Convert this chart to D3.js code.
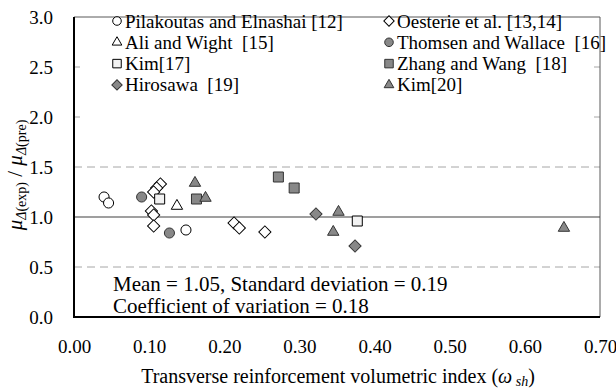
<!DOCTYPE html>
<html>
<head>
<meta charset="utf-8">
<script src="https://cdn.jsdelivr.net/npm/d3@7/dist/d3.min.js"></script>
<style>
  body { margin: 0; background: #fff; }
  svg text { font-family: "Liberation Serif", "Times New Roman", serif; }
</style>
</head>
<body>
<div id="graph"></div>
<script>
// tick values
const xTicks = [0, 0.1, 0.2, 0.3, 0.4, 0.5, 0.6, 0.7];
const yTicks = [0, 0.5, 1.0, 1.5, 2.0, 2.5, 3.0];
const gridLines = [0.5, 1.5, 2.0, 2.5];

// series
const pilakoutasX = [0.040, 0.046, 0.149];
const pilakoutasY = [1.20, 1.14, 0.87];
const oesterieX = [0.115, 0.110, 0.106, 0.103, 0.106, 0.106, 0.213, 0.220, 0.254];
const oesterieY = [1.33, 1.29, 1.25, 1.06, 1.02, 0.91, 0.94, 0.89, 0.85];
const aliX = [0.137];
const aliY = [1.11];
const thomsenX = [0.090, 0.127];
const thomsenY = [1.20, 0.84];
const kim17X = [0.114, 0.377];
const kim17Y = [1.18, 0.96];
const zhangX = [0.163, 0.272, 0.293];
const zhangY = [1.18, 1.40, 1.29];
const hirosawaX = [0.322, 0.374];
const hirosawaY = [1.03, 0.71];
const kim20X = [0.161, 0.175, 0.352, 0.345, 0.652];
const kim20Y = [1.34, 1.19, 1.05, 0.85, 0.89];

const legendLabels = [
  'Pilakoutas and Elnashai [12]', 'Oesterie et al. [13,14]',
  'Ali and Wight  [15]', 'Thomsen and Wallace  [16]',
  'Kim[17]', 'Zhang and Wang  [18]',
  'Hirosawa  [19]', 'Kim[20]'
];

const statsLines = [
  'Mean = 1.05, Standard deviation = 0.19',
  'Coefficient of variation = 0.18'
];

const fontSize = 19;
const grey = '#888888';
const series = [
  {xs: pilakoutasX, ys: pilakoutasY, shape: 'circle', fill: '#fff'},
  {xs: oesterieX, ys: oesterieY, shape: 'diamond', fill: '#fff'},
  {xs: aliX, ys: aliY, shape: 'triangle', fill: '#fff'},
  {xs: thomsenX, ys: thomsenY, shape: 'circle', fill: grey},
  {xs: kim17X, ys: kim17Y, shape: 'square', fill: '#f2f2f2'},
  {xs: zhangX, ys: zhangY, shape: 'square', fill: grey},
  {xs: hirosawaX, ys: hirosawaY, shape: 'diamond', fill: grey},
  {xs: kim20X, ys: kim20Y, shape: 'triangle', fill: grey}
];

const margin = {top: 17, right: 16, bottom: 75, left: 74};
const width = 616 - margin.left - margin.right;
const height = 392 - margin.top - margin.bottom;

const x = d3.scaleLinear().domain([0, 0.7]).range([0, width]);
const y = d3.scaleLinear().domain([0, 3]).range([height, 0]);

const svg = d3.select('#graph').append('svg')
  .attr('width', 616)
  .attr('height', 392)
  .append('g')
  .attr('transform', 'translate(' + margin.left + ',' + margin.top + ')');

function symbolPath(shape, scale) {
  const s = scale || 1;
  if (shape === 'circle') return d3.symbol(d3.symbolCircle, 80 * s * s)();
  if (shape === 'square') return d3.symbol(d3.symbolSquare, 100 * s * s)();
  if (shape === 'diamond') return d3.symbol(d3.symbolSquare, 74 * s * s)();
  return d3.symbol(d3.symbolTriangle, 56 * s * s)();
}

function strokeFor(fill) {
  return fill === grey ? '#333' : '#000';
}

// dashed grid
svg.append('g')
  .selectAll('line')
  .data(gridLines)
  .join('line')
  .attr('x1', 0).attr('x2', width)
  .attr('y1', d => y(d)).attr('y2', d => y(d))
  .attr('stroke', '#a6a6a6')
  .attr('stroke-width', 1)
  .attr('stroke-dasharray', '8,5');

// frame (top / right)
svg.append('path')
  .attr('d', 'M0,' + y(3) + 'H' + x(0.7) + 'V' + y(0))
  .attr('fill', 'none')
  .attr('stroke', '#595959')
  .attr('stroke-width', 1);

// legend box hides the upper grid lines
svg.append('rect')
  .attr('x', 6).attr('y', y(3) + 1)
  .attr('width', width - 12).attr('height', y(2) - y(3) + 4)
  .attr('fill', '#fff');

// reference line at 1.0
svg.append('line')
  .attr('x1', 0).attr('x2', width)
  .attr('y1', y(1)).attr('y2', y(1))
  .attr('stroke', '#404040')
  .attr('stroke-width', 1.2);

// y axis
const yAxis = svg.append('g')
  .call(d3.axisLeft(y).tickValues(yTicks).tickSize(0).tickPadding(21).tickFormat(d3.format('.1f')))
  .attr('font-size', fontSize);
yAxis.select('.domain').remove();
yAxis.selectAll('text').attr('fill', '#000');

// x axis
const xAxis = svg.append('g')
  .attr('transform', 'translate(0,' + height + ')')
  .call(d3.axisBottom(x).tickValues(xTicks).tickSize(0).tickPadding(23).tickFormat(d3.format('.2f')))
  .attr('font-size', fontSize);
xAxis.select('.domain').remove();
xAxis.selectAll('text').attr('fill', '#000');

// axis lines
svg.append('line')
  .attr('x1', 0).attr('x2', 0).attr('y1', 0).attr('y2', height)
  .attr('stroke', '#000').attr('stroke-width', 2);
svg.append('line')
  .attr('x1', -1).attr('x2', width).attr('y1', height).attr('y2', height)
  .attr('stroke', '#000').attr('stroke-width', 2);

// points
series.forEach((s) => {
  const pts = s.xs.map((v, i) => [v, s.ys[i]]);
  svg.append('g')
    .selectAll('path')
    .data(pts)
    .join('path')
    .attr('d', symbolPath(s.shape))
    .attr('transform', d => 'translate(' + x(d[0]) + ',' + y(d[1]) + ')' + (s.shape === 'diamond' ? ' rotate(45)' : ''))
    .attr('fill', s.fill)
    .attr('stroke', strokeFor(s.fill))
    .attr('stroke-width', 1);
});

// legend
const legendCols = [43, 315];
const legendRow0 = 4;
const legendRowStep = 21.3;
const legend = svg.append('g');
series.forEach((s, i) => {
  const col = i % 2;
  const row = Math.floor(i / 2);
  const lx = legendCols[col];
  const ly = legendRow0 + row * legendRowStep;
  legend.append('path')
    .attr('d', symbolPath(s.shape, 0.85))
    .attr('transform', 'translate(' + lx + ',' + ly + ')' + (s.shape === 'diamond' ? ' rotate(45)' : ''))
    .attr('fill', s.fill)
    .attr('stroke', strokeFor(s.fill))
    .attr('stroke-width', 1);
  legend.append('text')
    .attr('x', lx + 8)
    .attr('y', ly + 6.5)
    .attr('font-size', fontSize)
    .style('white-space', 'pre')
    .text(legendLabels[i]);
});

// statistics
svg.selectAll('.stats')
  .data(statsLines)
  .join('text')
  .attr('class', 'stats')
  .attr('x', 39)
  .attr('y', (d, i) => 273.5 + i * 22.5)
  .attr('font-size', 21)
  .text(d => d);

// x title
const xt = svg.append('text')
  .attr('x', width / 2 + 1)
  .attr('y', height + 66)
  .attr('text-anchor', 'middle')
  .attr('font-size', 20);
xt.append('tspan').text('Transverse reinforcement volumetric index (');
xt.append('tspan').attr('font-style', 'italic').text('ω');
xt.append('tspan').attr('font-style', 'italic').attr('font-size', 14).attr('dy', 3).text(' sh');
xt.append('tspan').attr('dy', -3).text(')');

// y title
const yt = svg.append('text')
  .attr('transform', 'translate(' + (-52) + ',' + 158 + ') rotate(-90)')
  .attr('text-anchor', 'middle')
  .attr('font-size', 21);
yt.append('tspan').attr('font-style', 'italic').text('μ');
yt.append('tspan').attr('font-style', 'italic').attr('font-size', 14).attr('dy', 4).text('Δ');
yt.append('tspan').attr('font-size', 14).text('(exp)');
yt.append('tspan').attr('dy', -4).text(' / ');
yt.append('tspan').attr('font-style', 'italic').text('μ');
yt.append('tspan').attr('font-style', 'italic').attr('font-size', 14).attr('dy', 4).text('Δ');
yt.append('tspan').attr('font-size', 14).text('(pre)');
</script>
</body>
</html>
